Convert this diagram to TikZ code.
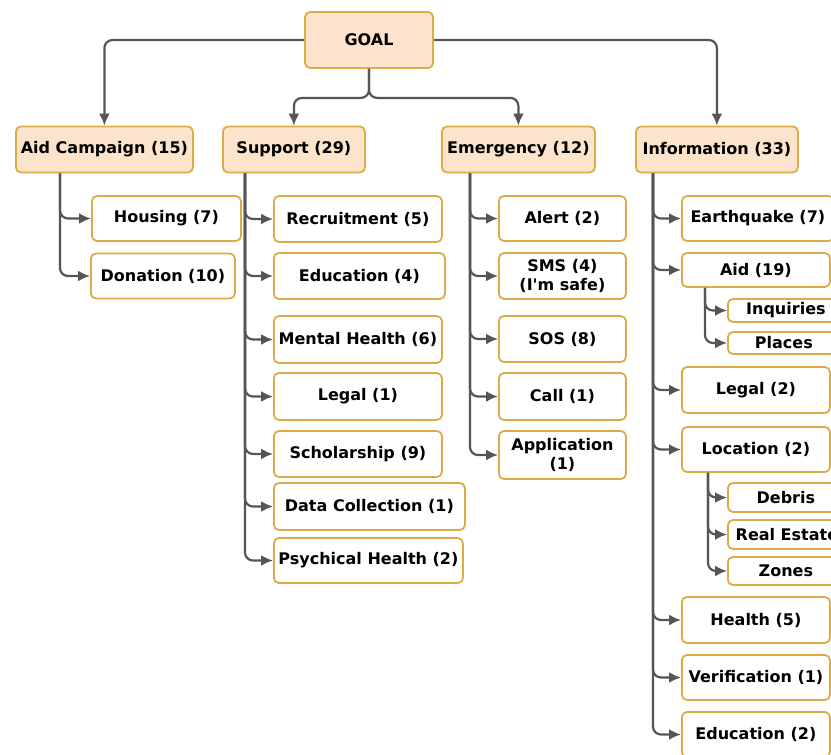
\documentclass[tikz,border=0pt]{standalone}
\usepackage{fontspec}
\setmainfont{DejaVu Sans}
\usepackage{tikz}
\usetikzlibrary{positioning, arrows.meta}
\definecolor{headfill}{RGB}{252,228,204}
\definecolor{boxline}{RGB}{221,172,72}
\definecolor{linkgray}{RGB}{85,85,85}

\begin{document}
\begin{tikzpicture}[x=1pt, y=-1pt,
    box/.style={draw=boxline, line width=1.8pt, rounded corners=5pt,
      font=\fontsize{16}{19}\selectfont\bfseries, align=center,
      inner sep=2pt, anchor=west, minimum height=46pt},
    head/.style={box, fill=headfill},
    leaf/.style={box, fill=white, minimum width=#1},
    link/.style={draw=linkgray, line width=2.2pt, rounded corners=8pt,
      -{Latex[length=12pt, width=11pt]}}]
  \clip (0,0) rectangle (831,755);%

  \node [head, anchor=center, minimum width=128pt, minimum height=56pt] (goal)
  at (369,40) {GOAL};%
  \node [head, minimum width=177pt] (aidcamp) at (15,149.5) {Aid Campaign (15)};%
  \node [head, minimum width=142pt] (support) at (222,149.5) {Support (29)};%
  \node [head, minimum width=153pt] (emergency) at (441,149.5) {Emergency (12)};%
  \node [head, minimum width=162pt] (information) at (635,149.5)
  {Information (33)};%

  \node [leaf=149pt, minimum height=45pt] (housing) at (91,218.5) {Housing (7)};%
  \node [leaf=144pt, minimum height=45pt] (donation) at (90,276) {Donation (10)};%

  \node [leaf=168pt] (recruit) at (273,219) {Recruitment (5)};%
  \node [leaf=171pt] (educ) at (273,276) {Education (4)};%
  \node [leaf=168pt, minimum height=47pt] (mental) at (273,339.5)
  {Mental Health (6)};%
  \node [leaf=168pt, minimum height=47pt] (legal) at (273,396.5) {Legal (1)};%
  \node [leaf=168pt] (scholar) at (273,454) {Scholarship (9)};%
  \node [leaf=191pt, minimum height=47pt] (datacoll) at (273,506.5)
  {Data Collection (1)};%
  \node [leaf=189pt, minimum height=45pt] (psych) at (273,560.5)
  {Psychical Health (2)};%

  \node [leaf=127pt, minimum height=45pt] (alert) at (498,218.5) {Alert (2)};%
  \node [leaf=127pt] (sms) at (498,276) {SMS (4)\\(I\textquotesingle m safe)};%
  \node [leaf=127pt] (sos) at (498,339) {SOS (8)};%
  \node [leaf=127pt, minimum height=47pt] (call) at (498,396.5) {Call (1)};%
  \node [leaf=127pt, minimum height=48pt] (app) at (498,455) {Application\\(1)};%

  \node [leaf=152pt, minimum height=45pt] (quake) at (681,218.5)
  {Earthquake (7)};%
  \node [leaf=148pt, minimum height=34pt] (aid) at (681,270) {Aid (19)};%
  \node [leaf=116pt, minimum height=23pt, inner sep=0pt] (inquiries)
  at (727,310.5) {Inquiries};%
  \node [leaf=112pt, minimum height=22pt, inner sep=0pt] (places)
  at (727,343) {Places};%
  \node [leaf=148pt] (legaltwo) at (681,390) {Legal (2)};%
  \node [leaf=148pt, minimum height=45pt] (location) at (681,449.5)
  {Location (2)};%
  \node [leaf=116pt, minimum height=29pt, inner sep=0pt] (debris)
  at (727,497.5) {Debris};%
  \node [leaf=118pt, minimum height=29pt, inner sep=0pt] (estate)
  at (727,534.5) {Real Estate};%
  \node [leaf=116pt, minimum height=28pt, inner sep=0pt] (zones)
  at (727,571) {Zones};%
  \node [leaf=148pt] (health) at (681,620) {Health (5)};%
  \node [leaf=148pt, minimum height=45pt] (verif) at (681,677.5)
  {Verification (1)};%
  \node [leaf=148pt, minimum height=45pt] (eductwo) at (681,734.5)
  {Education (2)};%

  \draw [link] (goal.west) -| (aidcamp.north);%
  \draw [link] (goal.east) -| (information.north);%
  \draw [link] (goal.south) -- ++(0,29) -| (support.north);%
  \draw [link] (goal.south) -- ++(0,29) -| (emergency.north);%

  \foreach \c in {housing, donation}
    \draw [link] ([xshift=45pt]aidcamp.south west) |- (\c.west);%
  \foreach \c in {recruit, educ, mental, legal, scholar, datacoll, psych}
    \draw [link] ([xshift=23pt]support.south west) |- (\c.west);%
  \foreach \c in {alert, sms, sos, call, app}
    \draw [link] ([xshift=29pt]emergency.south west) |- (\c.west);%
  \foreach \c in {quake, aid, legaltwo, location, health, verif, eductwo}
    \draw [link] ([xshift=18pt]information.south west) |- (\c.west);%
  \foreach \c in {inquiries, places}
    \draw [link] ([xshift=24pt]aid.south west) |- (\c.west);%
  \foreach \c in {debris, estate, zones}
    \draw [link] ([xshift=27pt]location.south west) |- (\c.west);%
\end{tikzpicture}
\end{document}
